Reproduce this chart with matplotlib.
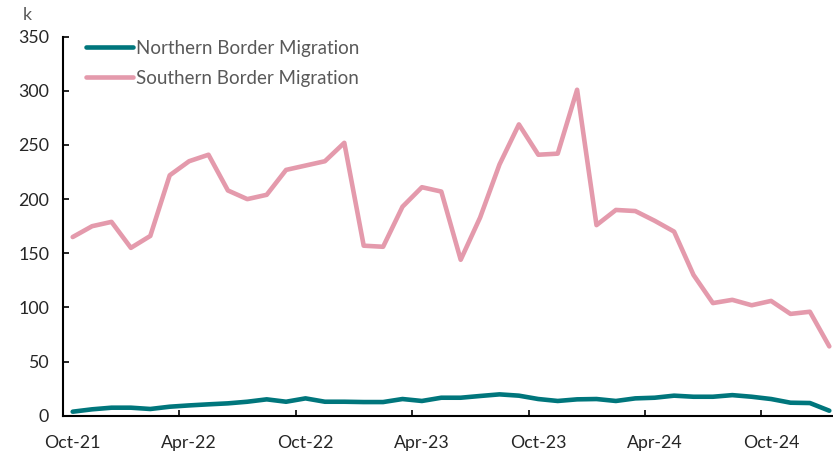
import matplotlib
matplotlib.use("Agg")
import matplotlib.pyplot as plt
import pandas as pd

plt.rcParams['font.family'] = ['Lato', 'DejaVu Sans']

months = pd.date_range("2021-10-01", periods=40, freq="MS").strftime("%b-%y").tolist()

northern = [3.7, 5.9, 7.4, 7.4, 6.2, 8.3, 9.5, 10.5, 11.4, 12.9,
            15.1, 12.9, 16.0, 12.9, 12.9, 12.6, 12.6, 15.4, 13.6, 16.6,
            16.6, 18.2, 19.7, 18.5, 15.4, 13.6, 15.1, 15.4, 13.6, 16.0,
            16.6, 18.5, 17.5, 17.5, 19.0, 17.5, 15.4, 12.0, 11.7, 4.6]

southern = [165, 175, 179, 155, 166, 222, 235, 241, 208, 200,
            204, 227, 231, 235, 252, 157, 156, 193, 211, 207,
            144, 183, 232, 269, 241, 242, 301, 176, 190, 189,
            180, 170, 130, 104, 107, 102, 106, 94, 96, 64]

tick_labels = ["Oct-21", "Apr-22", "Oct-22", "Apr-23", "Oct-23", "Apr-24", "Oct-24"]
label_pos = [months.index(m) for m in tick_labels]

teal = "#00767C"
pink = "#E49AAC"
text_grey = "#595959"
tick_col = "#262626"

fig = plt.figure(figsize=(8.33, 4.55), dpi=100)
ax = fig.add_axes([63/833, 39.3/455, (839-63)/833, 379/455])

x = list(range(len(months)))
ax.plot(x, northern, color=teal, lw=3.3, solid_capstyle='round', label="Northern Border Migration")
ax.plot(x, southern, color=pink, lw=3.3, solid_capstyle='round', label="Southern Border Migration")

ax.set_xlim(-0.5, len(months) - 0.5)
ax.set_ylim(0, 350)
ax.set_yticks(range(0, 351, 50))

ax.set_xticks(label_pos)
ax.set_xticklabels(tick_labels)
ax.set_xticks([p - 0.5 for p in label_pos], minor=True)
ax.tick_params(axis='x', which='major', length=0, pad=14, labelsize=12.8, labelcolor=tick_col)
ax.tick_params(axis='x', which='minor', direction='in', length=4.5, width=1.2, color='black')
ax.tick_params(axis='y', direction='in', length=4.5, width=1.2, color='black', pad=10,
               labelsize=12.8, labelcolor=tick_col)

for s in ['top', 'right']:
    ax.spines[s].set_visible(False)
for s in ['left', 'bottom']:
    ax.spines[s].set_linewidth(1.5)
    ax.spines[s].set_color('black')

leg = ax.legend(loc='upper left', bbox_to_anchor=(0.008, 1.037), frameon=False,
                fontsize=13.5, handlelength=2.5, handletextpad=0.15, labelspacing=0.72,
                labelcolor=text_grey)
for line in leg.get_lines():
    line.set_linewidth(3.3)

fig.text(27/833, 1 - 15/455, "k", fontsize=12.8, color=text_grey, ha='center', va='center')

fig.savefig("out.png", dpi=100)
